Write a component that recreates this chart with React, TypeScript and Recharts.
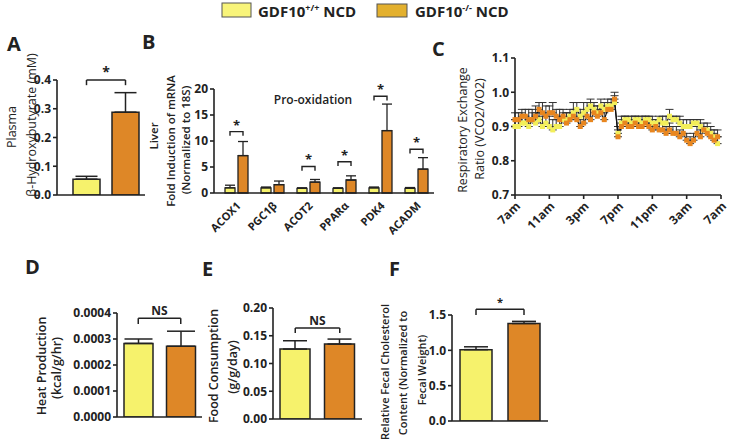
import React from 'react';
import { BarChart, Bar, Cell, LineChart, Line, XAxis, YAxis, ErrorBar, ReferenceLine } from 'recharts';

const YEL = '#f6f26c';
const ORG = '#de8727';
const INK = '#222';
const FONT = '"Open Sans", sans-serif';

// A - plasma beta-hydroxybutyrate
const groups = ['WT', 'KO'];
const aMean = [0.055, 0.288];
const aErr = [0.01, 0.068];

// B - liver mRNA
const genes = ['ACOX1', 'PGC1β', 'ACOT2', 'PPARα', 'PDK4', 'ACADM'];
const bWt = [1.0, 1.0, 0.9, 0.9, 1.0, 0.9];
const bWtErr = [0.5, 0.15, 0.1, 0.1, 0.15, 0.15];
const bKo = [7.2, 1.6, 2.1, 2.5, 12.0, 4.6];
const bKoErr = [2.7, 0.7, 0.5, 0.8, 5.1, 2.2];
const bSig = [11.8, null, 5.1, 6.0, 18.6, 8.4];

// C - RER over 24h (every 24 min from 7am)
const cTicks = ['7am', '11am', '3pm', '7pm', '11pm', '3am', '7am'];
const cWt = [
  0.90, 0.90, 0.91, 0.91, 0.90, 0.92, 0.91, 0.92, 0.90, 0.91, 0.90, 0.89, 0.90, 0.90, 0.92,
  0.92, 0.93, 0.94, 0.95, 0.93, 0.94, 0.95, 0.96, 0.95, 0.94, 0.96, 0.95, 0.96, 0.96, 0.97,
  0.88, 0.91, 0.92, 0.92, 0.91, 0.92, 0.92, 0.91, 0.92, 0.92, 0.91, 0.91, 0.92, 0.91, 0.91,
  0.93, 0.92, 0.92, 0.91, 0.90, 0.90, 0.90, 0.91, 0.91, 0.90, 0.89, 0.89, 0.88, 0.87, 0.85,
];
const cWtErr = [
  0.02, 0.02, 0.03, 0.02, 0.02, 0.03, 0.03, 0.02, 0.03, 0.02, 0.03, 0.03, 0.02, 0.03, 0.02,
  0.02, 0.02, 0.03, 0.02, 0.02, 0.03, 0.02, 0.02, 0.02, 0.02, 0.02, 0.02, 0.02, 0.02, 0.02,
  0.02, 0.02, 0.01, 0.01, 0.02, 0.01, 0.01, 0.02, 0.01, 0.01, 0.02, 0.01, 0.01, 0.02, 0.02,
  0.02, 0.01, 0.01, 0.02, 0.02, 0.02, 0.02, 0.01, 0.01, 0.02, 0.01, 0.02, 0.02, 0.02, 0.02,
];
const cKo = [
  0.92, 0.92, 0.93, 0.93, 0.92, 0.92, 0.93, 0.95, 0.94, 0.93, 0.94, 0.94, 0.93, 0.92, 0.93,
  0.91, 0.92, 0.93, 0.92, 0.90, 0.91, 0.93, 0.92, 0.94, 0.93, 0.94, 0.92, 0.95, 0.95, 0.98,
  0.87, 0.90, 0.91, 0.90, 0.90, 0.91, 0.90, 0.90, 0.91, 0.90, 0.89, 0.90, 0.89, 0.89, 0.88,
  0.89, 0.88, 0.88, 0.87, 0.88, 0.86, 0.85, 0.86, 0.88, 0.87, 0.89, 0.88, 0.87, 0.86, 0.87,
];
const cKoErr = [
  0.02, 0.02, 0.02, 0.02, 0.03, 0.02, 0.03, 0.02, 0.03, 0.03, 0.02, 0.03, 0.02, 0.03, 0.02,
  0.03, 0.02, 0.02, 0.03, 0.02, 0.02, 0.02, 0.03, 0.02, 0.02, 0.02, 0.02, 0.02, 0.02, 0.02,
  0.02, 0.02, 0.02, 0.02, 0.01, 0.02, 0.02, 0.01, 0.02, 0.02, 0.02, 0.02, 0.02, 0.02, 0.02,
  0.02, 0.02, 0.02, 0.02, 0.02, 0.02, 0.02, 0.02, 0.02, 0.02, 0.02, 0.02, 0.02, 0.02, 0.02,
];

// D, E, F
const dMean = [0.000283, 0.000272];
const dErr = [0.000017, 0.000058];
const eMean = [0.126, 0.135];
const eErr = [0.015, 0.009];
const fMean = [1.01, 1.38];
const fErr = [0.04, 0.03];

const tickStyle = { fill: INK, fontSize: 12, fontWeight: 700, fontFamily: FONT };
const axisLine = { stroke: INK, strokeWidth: 1.6 };

const pair = (mean: number[], err: number[]) =>
  groups.map((g, i) => ({ name: g, v: mean[i], e: [0, err[i]] }));

function Bracket({ h, leg, text, size }: { h: number; leg: number; text: string; size: number }) {
  return (
    <>
      <ReferenceLine
        segment={[{ x: 'WT', y: h }, { x: 'KO', y: h }]}
        stroke={INK}
        strokeWidth={1.5}
        ifOverflow="visible"
        label={{ value: text, position: 'top', offset: 3, fill: INK, fontSize: size, fontWeight: 700, fontFamily: FONT }}
      />
      <ReferenceLine segment={[{ x: 'WT', y: h }, { x: 'WT', y: h - leg }]} stroke={INK} strokeWidth={1.5} ifOverflow="visible" />
      <ReferenceLine segment={[{ x: 'KO', y: h }, { x: 'KO', y: h - leg }]} stroke={INK} strokeWidth={1.5} ifOverflow="visible" />
    </>
  );
}

function PairChart(props: any) {
  const { data, w, h, margin, yw, pad, domain, ticks, digits, barSize, cap, sig } = props;
  return (
    <BarChart width={w} height={h} data={data} margin={margin}>
      <XAxis dataKey="name" tick={false} tickLine={false} axisLine={axisLine} height={5} padding={{ left: pad, right: 0 }} />
      <YAxis
        width={yw}
        domain={domain}
        ticks={ticks}
        tickFormatter={(t: number) => t.toFixed(digits)}
        tick={tickStyle}
        axisLine={axisLine}
        tickLine={axisLine}
        tickSize={4}
        allowDataOverflow
      />
      <Bar dataKey="v" barSize={barSize} stroke={INK} strokeWidth={1.5} isAnimationActive={false}>
        <Cell fill={YEL} />
        <Cell fill={ORG} />
        <ErrorBar dataKey="e" direction="y" width={cap} stroke={INK} strokeWidth={1.5} />
      </Bar>
      <Bracket {...sig} />
    </BarChart>
  );
}

// bracket over each gene pair, drawn from the orange bar's own geometry
const bracketLabel = (p: any) => {
  const i = p.index;
  const s = bSig[i];
  if (s == null) return null;
  const vb = p.viewBox || p;
  const { x, y, width, height } = vb;
  const val = bKo[i];
  const base = y + height;
  const k = height / val;
  const top = base - s * k;
  const leg = 0.8 * k;
  const x2 = x + width / 2;
  const x1 = x2 - (width + 3);
  return (
    <g key={`br${i}`}>
      <path d={`M${x1},${top + leg}V${top}H${x2}V${top + leg}`} fill="none" stroke={INK} strokeWidth={1.4} />
      <text x={(x1 + x2) / 2} y={top - 2} textAnchor="middle" fontSize={13} fontWeight={700} fill={INK} fontFamily={FONT}>*</text>
    </g>
  );
};

const bData = genes.map((g, i) => ({ name: g, wt: bWt[i], ko: bKo[i], we: [0, bWtErr[i]], ke: [0, bKoErr[i]] }));
const cData = cWt.map((v, i) => ({ t: i * 0.4, wt: v, ko: cKo[i], we: [0, cWtErr[i]], ke: [0, cKoErr[i]] }));

const square = (fill: string) => (p: any) => {
  if (p.cx == null || p.cy == null) return <g key={`n${p.index}`} />;
  return <rect key={`${fill}${p.index}`} x={p.cx - 2.5} y={p.cy - 2.5} width={5} height={5} fill={fill} />;
};

function VText({ x, y, size, weight = 400, children }: any) {
  return (
    <text transform={`translate(${x},${y}) rotate(-90)`} textAnchor="middle" dominantBaseline="central" fontSize={size} fontWeight={weight} fill={INK}>
      {children}
    </text>
  );
}

const abs = (left: number, top: number): React.CSSProperties => ({ position: 'absolute', left, top });

export default function App() {
  return (
    <div style={{ position: 'absolute', left: 0, top: 0, width: 732, height: 446, background: '#fff', fontFamily: FONT, overflow: 'hidden' }}>
      <div style={abs(0, 60)}>
        <PairChart
          data={pair(aMean, aErr)} w={150} h={150} margin={{ top: 20, right: 5, bottom: 10, left: 0 }} yw={57} pad={10}
          domain={[0, 0.4]} ticks={[0, 0.1, 0.2, 0.3, 0.4]} digits={1} barSize={27} cap={11}
          sig={{ h: 0.4, leg: 0.018, text: '*', size: 14 }}
        />
      </div>

      <div style={abs(130, 60)}>
        <BarChart width={310} height={175} data={bData} margin={{ top: 29, right: 6, bottom: 2, left: 0 }} barGap={3}>
          <XAxis
            dataKey="name"
            height={40}
            padding={{ left: 4, right: 0 }}
            axisLine={axisLine}
            tickLine={false}
            interval={0}
            angle={-45}
            textAnchor="end"
            tick={{ ...tickStyle, fontSize: 11 }}
          />
          <YAxis width={84} domain={[0, 20]} ticks={[0, 5, 10, 15, 20]} tick={tickStyle} axisLine={axisLine} tickLine={axisLine} tickSize={4} />
          <Bar dataKey="wt" fill={YEL} barSize={10} stroke={INK} strokeWidth={1.3} isAnimationActive={false}>
            <ErrorBar dataKey="we" direction="y" width={5} stroke={INK} strokeWidth={1.3} />
          </Bar>
          <Bar dataKey="ko" fill={ORG} barSize={10} stroke={INK} strokeWidth={1.3} isAnimationActive={false} label={bracketLabel}>
            <ErrorBar dataKey="ke" direction="y" width={5} stroke={INK} strokeWidth={1.3} />
          </Bar>
        </BarChart>
      </div>

      <div style={abs(470, 40)}>
        <LineChart width={262} height={200} data={cData} margin={{ top: 18, right: 11, bottom: 10, left: 0 }}>
          <XAxis
            dataKey="t"
            type="number"
            domain={[0, 24]}
            ticks={[0, 4, 8, 12, 16, 20, 24]}
            tickFormatter={(t: number) => cTicks[t / 4]}
            height={35}
            axisLine={axisLine}
            tickLine={axisLine}
            tickSize={4}
            angle={-45}
            textAnchor="end"
            tick={tickStyle}
          />
          <YAxis
            width={45}
            domain={[0.7, 1.1]}
            ticks={[0.7, 0.8, 0.9, 1.0, 1.1]}
            tickFormatter={(t: number) => t.toFixed(1)}
            tick={tickStyle}
            axisLine={axisLine}
            tickLine={axisLine}
            tickSize={4}
            allowDataOverflow
          />
          <Line dataKey="wt" stroke="#111" strokeWidth={1.2} dot={square('#f3ef5a')} activeDot={false} isAnimationActive={false}>
            <ErrorBar dataKey="we" direction="y" width={4} stroke="#333" strokeWidth={1} />
          </Line>
          <Line dataKey="ko" stroke="#111" strokeWidth={1.2} dot={square('#e8861f')} activeDot={false} isAnimationActive={false}>
            <ErrorBar dataKey="ke" direction="y" width={4} stroke="#333" strokeWidth={1} />
          </Line>
        </LineChart>
      </div>

      <div style={abs(40, 290)}>
        <PairChart
          data={pair(dMean, dErr)} w={170} h={140} margin={{ top: 23, right: 8, bottom: 8, left: 0 }} yw={77} pad={0}
          domain={[0, 0.0004]} ticks={[0, 0.0001, 0.0002, 0.0003, 0.0004]} digits={4} barSize={29} cap={14}
          sig={{ h: 0.00038, leg: 0.000022, text: 'NS', size: 12 }}
        />
      </div>

      <div style={abs(200, 290)}>
        <PairChart
          data={pair(eMean, eErr)} w={165} h={140} margin={{ top: 18, right: 3, bottom: 6, left: 0 }} yw={73} pad={0}
          domain={[0, 0.2]} ticks={[0, 0.05, 0.1, 0.15, 0.2]} digits={2} barSize={30} cap={12}
          sig={{ h: 0.164, leg: 0.009, text: 'NS', size: 12 }}
        />
      </div>

      <div style={abs(400, 290)}>
        <PairChart
          data={pair(fMean, fErr)} w={155} h={140} margin={{ top: 25, right: 7, bottom: 4, left: 0 }} yw={52} pad={0}
          domain={[0, 1.5]} ticks={[0, 0.5, 1.0, 1.5]} digits={1} barSize={32} cap={12}
          sig={{ h: 1.58, leg: 0.08, text: '*', size: 11 }}
        />
      </div>

      <svg width={732} height={446} style={{ position: 'absolute', left: 0, top: 0, pointerEvents: 'none' }} fontFamily={FONT}>
        {/* legend */}
        <rect x={222} y={3} width={29} height={14} fill="#f8f47a" stroke="#555" />
        <text x={258} y={17} fontSize={15} fontWeight={700} fill={INK}>
          GDF10<tspan dy={-6} fontSize={9}>+/+</tspan><tspan dy={6}> NCD</tspan>
        </text>
        <rect x={377} y={4} width={30} height={13} fill="#e3b02e" stroke="#555" />
        <text x={415} y={17} fontSize={15} fontWeight={700} fill={INK}>
          GDF10<tspan dy={-6} fontSize={9}>-/-</tspan><tspan dy={6}> NCD</tspan>
        </text>

        {/* panel letters */}
        <g fontSize={20} fontWeight={700} fill={INK}>
          <text x={7} y={51}>A</text>
          <text x={142} y={49}>B</text>
          <text x={432} y={56}>C</text>
          <text x={25} y={274}>D</text>
          <text x={202} y={276}>E</text>
          <text x={389} y={276}>F</text>
        </g>

        <text x={313} y={104} textAnchor="middle" fontSize={12} fontWeight={600} fill={INK}>Pro-oxidation</text>

        <VText x={11} y={127} size={12.5}>Plasma</VText>
        <VText x={31} y={125} size={12.5}>β-Hydroxybutyrate (mM)</VText>

        <VText x={153} y={136} size={11.5} weight={600}>Liver</VText>
        <VText x={170} y={141} size={11.5} weight={600}>Fold Induction of mRNA</VText>
        <VText x={185} y={140} size={11.5} weight={600}>(Normalized to 18S)</VText>

        <VText x={462} y={130} size={12.5}>Respiratory Exchange</VText>
        <VText x={479} y={129} size={12.5}>Ratio (VCO2/VO2)</VText>

        <VText x={41} y={366} size={12.5} weight={600}>Heat Production</VText>
        <VText x={56} y={368} size={12.5} weight={600}>(kcal/g/hr)</VText>

        <VText x={213} y={366} size={12.5} weight={600}>Food Consumption</VText>
        <VText x={232} y={367} size={12.5} weight={600}>(g/g/day)</VText>

        <VText x={384} y={372} size={11} weight={600}>Relative Fecal Cholesterol</VText>
        <VText x={402} y={373} size={11} weight={600}>Content (Normalized to</VText>
        <VText x={421} y={370} size={11} weight={600}>Fecal Weight)</VText>
      </svg>
    </div>
  );
}
